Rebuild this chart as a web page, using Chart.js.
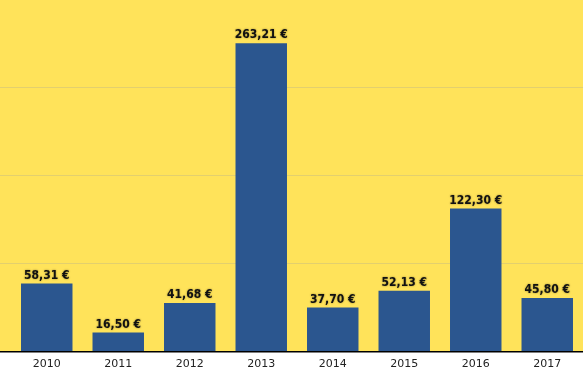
<!DOCTYPE html>
<html>
<head>
<meta charset="utf-8">
<script src="https://cdn.jsdelivr.net/npm/chart.js@4.4.0/dist/chart.umd.min.js"></script>
<style>
  html, body { margin: 0; padding: 0; background: #fff; }
  #wrap { width: 583px; height: 377px; }
</style>
</head>
<body>
<div id="wrap"><canvas id="chart"></canvas></div>
<script>
const years = ['2010', '2011', '2012', '2013', '2014', '2015', '2016', '2017'];
const amounts = [58.31, 16.50, 41.68, 263.21, 37.70, 52.13, 122.30, 45.80];
const valueLabels = ['58,31 €', '16,50 €', '41,68 €', '263,21 €', '37,70 €', '52,13 €', '122,30 €', '45,80 €'];

const YELLOW = '#FFE35A';
const BLUE = '#2B568F';
const GRID = 'rgba(200, 190, 130, 0.5)';

// yellow panel behind the plot, full width, down to the axis line
const backdrop = {
  id: 'backdrop',
  beforeDraw(chart) {
    const { ctx, chartArea } = chart;
    ctx.save();
    ctx.fillStyle = YELLOW;
    ctx.fillRect(0, 0, chart.width, chartArea.bottom);
    ctx.restore();
  }
};

// value labels above each bar
const barLabels = {
  id: 'barLabels',
  afterDatasetsDraw(chart) {
    const { ctx } = chart;
    const bars = chart.getDatasetMeta(0).data;
    ctx.save();
    ctx.font = 'bold 12px "DejaVu Sans Condensed", "DejaVu Sans", sans-serif';
    ctx.textAlign = 'center';
    ctx.textBaseline = 'bottom';
    ctx.fillStyle = '#111';
    ctx.shadowColor = 'rgba(0, 0, 0, 0.45)';
    ctx.shadowBlur = 2;
    bars.forEach((bar, i) => {
      ctx.fillText(valueLabels[i], bar.x, bar.y - 2);
    });
    ctx.restore();
  }
};

new Chart(document.getElementById('chart'), {
  type: 'bar',
  data: {
    labels: years,
    datasets: [{
      data: amounts,
      backgroundColor: BLUE,
      borderWidth: 0
    }]
  },
  options: {
    responsive: true,
    maintainAspectRatio: false,
    animation: false,
    layout: { padding: { left: 0, right: 0, top: 0, bottom: 0 } },
    plugins: {
      legend: { display: false },
      tooltip: { enabled: false }
    },
    scales: {
      x: {
        grid: { display: false, drawTicks: false },
        border: { display: false },
        ticks: {
          color: '#222',
          padding: 6,
          font: { size: 11, family: '"DejaVu Sans", sans-serif' }
        }
      },
      y: {
        min: 0,
        max: 300,
        ticks: { display: false, stepSize: 75 },
        border: { display: false },
        grid: {
          drawTicks: true,
          tickLength: 11,
          color: ctx => {
            if (!ctx.tick) return GRID;
            if (ctx.tick.value === 0) return '#000';
            if (ctx.tick.value === 300) return 'rgba(0,0,0,0)';
            return GRID;
          },
          lineWidth: ctx => (ctx.tick && ctx.tick.value === 0) ? 1.5 : 1
        }
      }
    }
  },
  plugins: [backdrop, barLabels]
});
</script>
</body>
</html>
